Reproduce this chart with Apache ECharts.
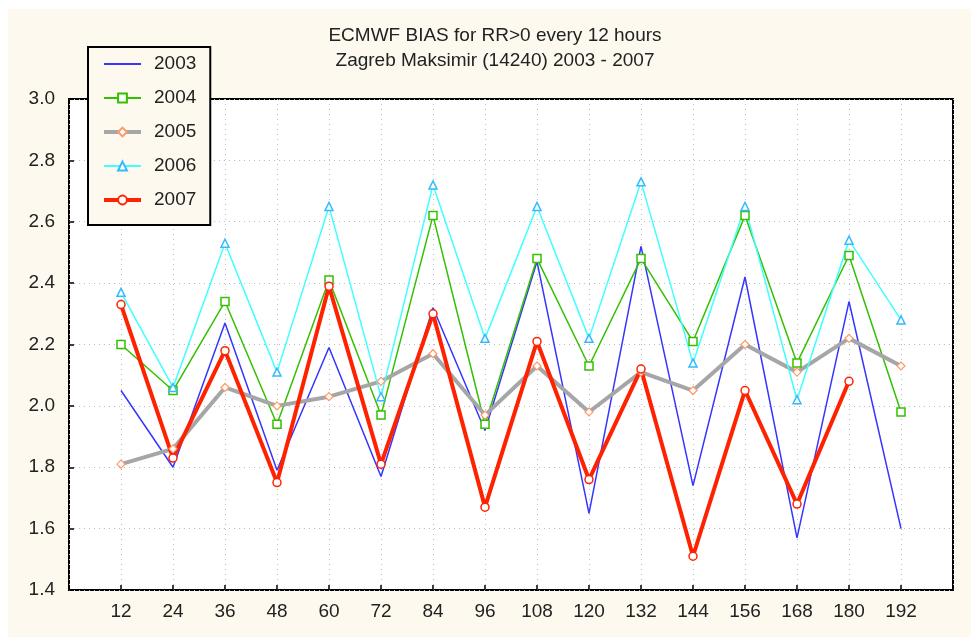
<!DOCTYPE html>
<html>
<head>
<meta charset="UTF-8">
<title>ECMWF BIAS</title>
<script src="https://cdn.jsdelivr.net/npm/echarts@6/dist/echarts.min.js"></script>
<style>
  html, body { margin: 0; padding: 0; background: #fff; }
  #main { position: absolute; left: 8px; top: 9px; width: 963px; height: 628px; }
</style>
</head>
<body>
<div id="main"></div>
<script type="text/javascript">
// forecast hours
var hours = [12, 24, 36, 48, 60, 72, 84, 96, 108, 120, 132, 144, 156, 168, 180, 192];

// bias per year
var y2003 = [2.05, 1.80, 2.27, 1.79, 2.19, 1.77, 2.32, 1.92, 2.47, 1.65, 2.52, 1.74, 2.42, 1.57, 2.34, 1.60];
var y2004 = [2.20, 2.05, 2.34, 1.94, 2.41, 1.97, 2.62, 1.94, 2.48, 2.13, 2.48, 2.21, 2.62, 2.14, 2.49, 1.98];
var y2005 = [1.81, 1.86, 2.06, 2.00, 2.03, 2.08, 2.17, 1.97, 2.13, 1.98, 2.11, 2.05, 2.20, 2.11, 2.22, 2.13];
var y2006 = [2.37, 2.06, 2.53, 2.11, 2.65, 2.03, 2.72, 2.22, 2.65, 2.22, 2.73, 2.14, 2.65, 2.02, 2.54, 2.28];
var y2007 = [2.33, 1.83, 2.18, 1.75, 2.39, 1.81, 2.30, 1.67, 2.21, 1.76, 2.12, 1.51, 2.05, 1.68, 2.08];

var yTicks = ['1.4', '1.6', '1.8', '2.0', '2.2', '2.4', '2.6', '2.8', '3.0'];

function pairs(vals) {
    var out = [];
    for (var i = 0; i < vals.length; i++) {
        out.push([hours[i], vals[i]]);
    }
    return out;
}

var font = 'Liberation Sans, Arial, sans-serif';
var myChart = echarts.init(document.getElementById('main'));

var option = {
    backgroundColor: '#fdf9ef',
    animation: false,
    textStyle: { fontFamily: font },
    title: {
        text: 'ECMWF BIAS for RR>0 every 12 hours\nZagreb Maksimir (14240) 2003 - 2007',
        left: 487,
        top: 14,
        padding: 0,
        textAlign: 'center',
        textStyle: { fontSize: 19, fontWeight: 'normal', color: '#222', lineHeight: 25, fontFamily: font }
    },
    legend: {
        orient: 'vertical',
        left: 80,
        top: 38,
        padding: [7, 14, 15, 14],
        itemWidth: 37,
        itemHeight: 11,
        itemGap: 14,
        backgroundColor: '#fdf9ef',
        borderColor: '#000',
        borderWidth: 2,
        borderRadius: 0,
        z: 10,
        textStyle: { fontSize: 19, color: '#222', lineHeight: 20, padding: [0, 0, 0, 8], fontFamily: font },
        data: [
            { name: '2003', itemStyle: { opacity: 0 } },
            { name: '2004' },
            { name: '2005', lineStyle: { width: 4 } },
            { name: '2006' },
            { name: '2007', lineStyle: { width: 4 } }
        ]
    },
    grid: {
        show: true,
        left: 61,
        right: 18,
        top: 90,
        bottom: 47,
        backgroundColor: '#fff',
        borderColor: '#000',
        borderWidth: 2
    },
    xAxis: {
        type: 'value',
        min: 0,
        max: 204,
        interval: 12,
        axisLine: { show: false },
        axisTick: { show: true, inside: true, length: 5, lineStyle: { color: '#000', width: 1.5 } },
        axisLabel: {
            fontSize: 19,
            color: '#222',
            margin: 12,
            formatter: function (v) {
                return hours.indexOf(v) >= 0 ? String(v) : '';
            }
        },
        splitLine: { show: true, lineStyle: { color: '#bbb', type: [1, 4], width: 1 } }
    },
    yAxis: {
        type: 'value',
        min: 1.4,
        max: 3.0,
        interval: 0.2,
        axisLine: { show: false },
        axisTick: { show: true, inside: true, length: 5, lineStyle: { color: '#000', width: 1.5 } },
        axisLabel: {
            fontSize: 19,
            color: '#222',
            margin: 14,
            formatter: function (v) {
                var s = v.toFixed(1);
                return yTicks.indexOf(s) >= 0 ? s : '';
            }
        },
        splitLine: { show: true, lineStyle: { color: '#bbb', type: [1, 4], width: 1 } }
    },
    series: [
        {
            name: '2003', type: 'line', data: pairs(y2003),
            symbol: 'none',
            lineStyle: { color: '#3535ff', width: 1.5 },
            itemStyle: { color: '#3535ff' }
        },
        {
            name: '2004', type: 'line', data: pairs(y2004),
            symbol: 'rect', symbolSize: 8,
            lineStyle: { color: '#33c000', width: 1.5 },
            itemStyle: { color: '#fff', borderColor: '#33c000', borderWidth: 1.5 }
        },
        {
            name: '2005', type: 'line', data: pairs(y2005),
            symbol: 'diamond', symbolSize: 8,
            lineStyle: { color: '#a6a6a6', width: 4 },
            itemStyle: { color: '#fff', borderColor: '#ff9966', borderWidth: 1.2 }
        },
        {
            name: '2006', type: 'line', data: pairs(y2006),
            symbol: 'triangle', symbolSize: 8,
            lineStyle: { color: '#40ffff', width: 1.5 },
            itemStyle: { color: '#fff', borderColor: '#33bbff', borderWidth: 1.5 }
        },
        {
            name: '2007', type: 'line', data: pairs(y2007),
            symbol: 'circle', symbolSize: 8,
            lineStyle: { color: '#ff2200', width: 4 },
            itemStyle: { color: '#fff', borderColor: '#ff2200', borderWidth: 1.5 }
        }
    ]
};

myChart.setOption(option);
</script>
</body>
</html>
